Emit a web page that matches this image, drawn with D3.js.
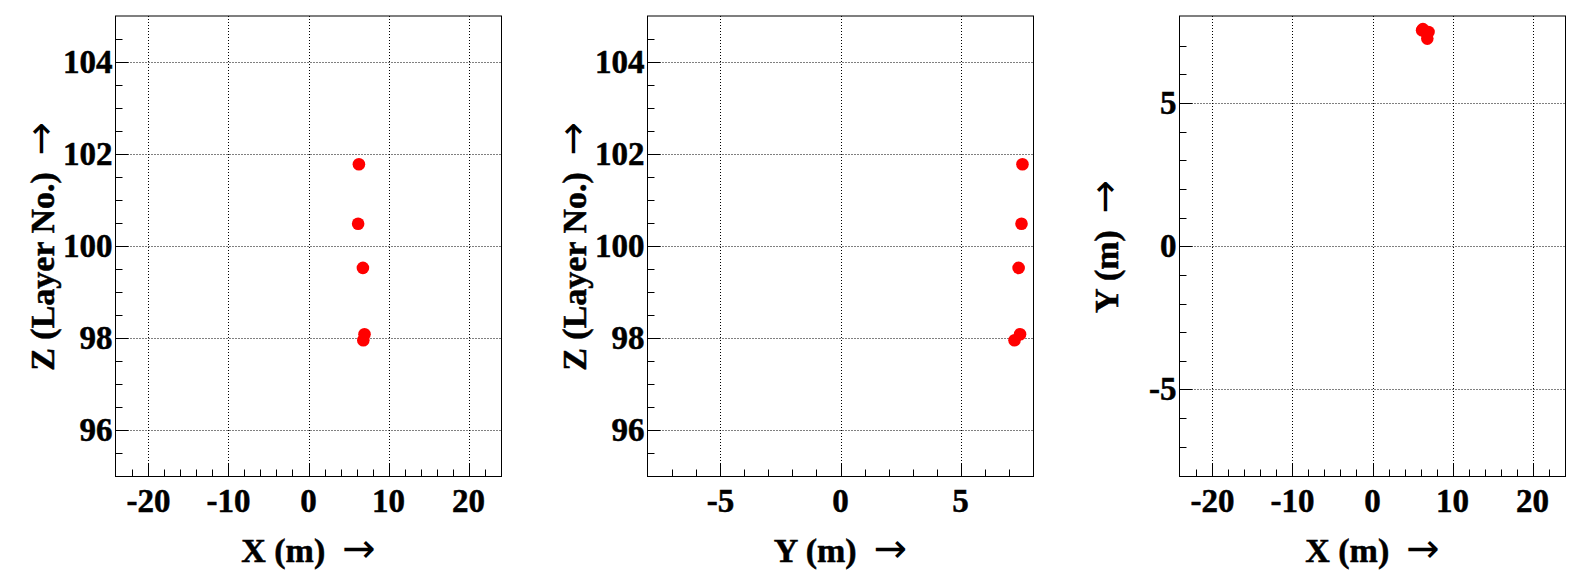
<!DOCTYPE html>
<html>
<head>
<meta charset="utf-8">
<script src="https://cdn.jsdelivr.net/npm/d3@7/dist/d3.min.js"></script>
<style>
  body { margin: 0; background: #fff; }
  svg text { font-family: "Liberation Serif", "Times New Roman", serif; font-weight: bold; fill: #000; stroke: #000; stroke-width: 0.5px; }
  svg text .arrow { font-family: "DejaVu Sans", sans-serif; font-weight: normal; stroke: none; }
</style>
</head>
<body>
<div id="graphic"></div>
<script>
// Coups enregistrés (positions en m, Z en numéro de couche)
let hitX = [6.3, 6.2, 6.8, 7.0, 6.85];
let hitY = [7.58, 7.54, 7.42, 7.48, 7.25];
let hitZ = [101.78, 100.49, 99.53, 98.09, 97.96];

// Graduations principales
let ticksX = [-20, -10, 0, 10, 20];
let ticksY = [-5, 0, 5];
let ticksZ = [96, 98, 100, 102, 104];

// Titres des axes
let titreX = "X (m)";
let titreY = "Y (m)";
let titreZ = "Z (Layer No.)";

// Définition du cadre
let cadre = d3.select("#graphic")
    .append("svg")
    .attr("width", 1596)
    .attr("height", 572);

let top0 = 16, largeur = 386, hauteur = 460.5;

let panneaux = [
  {left: 115.5,  h: hitX, v: hitZ, hDom: [-24.12, 24.12], vDom: [95, 105],
   hTicks: ticksX, vTicks: ticksZ, hStep: 2, vStep: 0.5, hTitre: titreX, vTitre: titreZ},
  {left: 647.5,  h: hitY, v: hitZ, hDom: [-8.04, 8.04], vDom: [95, 105],
   hTicks: ticksY, vTicks: ticksZ, hStep: 1, vStep: 0.5, hTitre: titreY, vTitre: titreZ},
  {left: 1179.5, h: hitX, v: hitY, hDom: [-24.12, 24.12], vDom: [-8.04, 8.04],
   hTicks: ticksX, vTicks: ticksY, hStep: 2, vStep: 1, hTitre: titreX, vTitre: titreY}
];

// Graduations secondaires, sans celles collées au bord du cadre
function mineures(scale, step){
  let d = scale.domain();
  let r = scale.range();
  let lo = Math.min(r[0], r[1]), hi = Math.max(r[0], r[1]);
  return d3.range(Math.ceil(d[0] / step) * step, d[1] + 1e-9, step)
    .filter(function(t){ let p = scale(t); return p > lo + 3 && p < hi - 3; });
}

function titre(g, texte, x, y, rot){
  let t = g.append("text")
    .attr("text-anchor", "middle")
    .attr("font-size", 34)
    .attr("xml:space", "preserve")
    .style("white-space", "pre")
    .attr("transform", "translate(" + x + "," + y + ")" + (rot ? " rotate(-90)" : ""));
  t.append("tspan").text(texte + "  ");
  t.append("tspan").attr("class", "arrow").attr("font-size", 40).text("\u2192");
}

panneaux.forEach(function(p){
  let g = cadre.append("g");
  let x0 = p.left, x1 = p.left + largeur;
  let y0 = top0, y1 = top0 + hauteur;

  let sx = d3.scaleLinear().domain(p.hDom).range([x0, x1]);
  let sy = d3.scaleLinear().domain(p.vDom).range([y1, y0]);

  // Grille en pointillés
  g.selectAll(".gx").data(p.hTicks).enter()
    .append("line")
    .attr("x1", function(d){ return Math.round(sx(d)) + 0.5; })
    .attr("x2", function(d){ return Math.round(sx(d)) + 0.5; })
    .attr("y1", y0).attr("y2", y1)
    .attr("stroke", "#000").attr("stroke-width", 1).attr("stroke-dasharray", "1,2");
  g.selectAll(".gy").data(p.vTicks).enter()
    .append("line")
    .attr("y1", function(d){ return Math.round(sy(d)) + 0.5; })
    .attr("y2", function(d){ return Math.round(sy(d)) + 0.5; })
    .attr("x1", x0).attr("x2", x1)
    .attr("stroke", "#000").attr("stroke-width", 1).attr("stroke-dasharray", "1,2");

  // Graduations (axe du bas et axe de gauche)
  let ticksBas = p.hTicks.map(function(t){ return {v: t, l: 13}; })
    .concat(mineures(sx, p.hStep).filter(function(t){ return p.hTicks.indexOf(t) < 0; })
      .map(function(t){ return {v: t, l: 7}; }));
  let ticksGauche = p.vTicks.map(function(t){ return {v: t, l: 13}; })
    .concat(mineures(sy, p.vStep).filter(function(t){ return p.vTicks.indexOf(t) < 0; })
      .map(function(t){ return {v: t, l: 7}; }));

  g.selectAll(".tb").data(ticksBas).enter()
    .append("line")
    .attr("x1", function(d){ return Math.round(sx(d.v)) + 0.5; })
    .attr("x2", function(d){ return Math.round(sx(d.v)) + 0.5; })
    .attr("y1", y1).attr("y2", function(d){ return y1 - d.l; })
    .attr("stroke", "#000").attr("stroke-width", 1);
  g.selectAll(".tg").data(ticksGauche).enter()
    .append("line")
    .attr("y1", function(d){ return Math.round(sy(d.v)) + 0.5; })
    .attr("y2", function(d){ return Math.round(sy(d.v)) + 0.5; })
    .attr("x1", x0).attr("x2", function(d){ return x0 + d.l; })
    .attr("stroke", "#000").attr("stroke-width", 1);

  // Cadre
  g.append("rect")
    .attr("x", x0).attr("y", y0)
    .attr("width", largeur).attr("height", hauteur)
    .attr("fill", "none").attr("stroke", "#000").attr("stroke-width", 1);

  // Étiquettes
  g.selectAll(".lb").data(p.hTicks).enter()
    .append("text")
    .attr("x", function(d){ return sx(d); })
    .attr("y", y1 + 35)
    .attr("text-anchor", "middle")
    .attr("font-size", 33)
    .text(function(d){ return d; });
  g.selectAll(".lg").data(p.vTicks).enter()
    .append("text")
    .attr("x", x0 - 3)
    .attr("y", function(d){ return sy(d) + 11; })
    .attr("text-anchor", "end")
    .attr("font-size", 33)
    .text(function(d){ return d; });

  // Titres des axes
  titre(g, p.hTitre, (x0 + x1) / 2, 562, false);
  titre(g, p.vTitre, x0 - 62, (y0 + y1) / 2, true);

  // Points
  g.selectAll(".pt").data(p.h).enter()
    .append("circle")
    .attr("cx", function(d){ return sx(d); })
    .attr("cy", function(d, i){ return sy(p.v[i]); })
    .attr("r", 6.3)
    .attr("fill", "#ff0000");
});
</script>
</body>
</html>
